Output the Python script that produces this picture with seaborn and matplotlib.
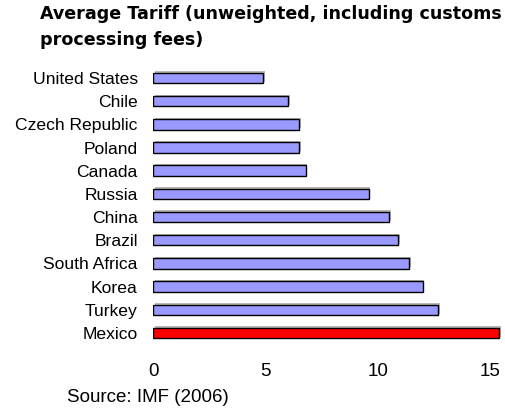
import matplotlib
matplotlib.use("Agg")
import matplotlib.pyplot as plt
import matplotlib.patheffects as pe
import seaborn as sns
import pandas as pd

countries = ["United States", "Chile", "Czech Republic", "Poland", "Canada", "Russia",
             "China", "Brazil", "South Africa", "Korea", "Turkey", "Mexico"]
tariffs = [4.9, 6.0, 6.5, 6.5, 6.8, 9.6, 10.5, 10.9, 11.4, 12.0, 12.7, 15.4]
highlight = "Mexico"
x_ticks = [0, 5, 10, 15]

sns.set_theme(style="white")
plt.rcParams["font.family"] = ["Liberation Sans", "DejaVu Sans"]

df = pd.DataFrame({"country": countries, "tariff": tariffs})
colors = {c: ("#ff0000" if c == highlight else "#9999ff") for c in countries}

fig = plt.figure(figsize=(5.05, 4.08), dpi=100)
ax = fig.add_axes([0.303, 0.1554, 0.6897, 0.6819])

sns.barplot(data=df, y="country", x="tariff", hue="country", palette=colors,
            legend=False, orient="h", width=0.45, edgecolor="black",
            linewidth=1.0, saturation=1, ax=ax)

for bar in ax.patches:
    bar.set_path_effects([
        pe.SimplePatchShadow(offset=(1.2, 1.0), shadow_rgbFace="#888888", alpha=0.6),
        pe.Normal(),
    ])

ax.set_xlim(0, 15.5)
ax.set_xticks(x_ticks)
ax.set_xticklabels([str(t) for t in x_ticks])
ax.set_xlabel("")
ax.set_ylabel("")
ax.tick_params(axis="x", length=0, pad=13, labelsize=13.5, labelcolor="black")
ax.tick_params(axis="y", length=0, pad=11, labelsize=12.6, labelcolor="black")
for s in ax.spines.values():
    s.set_visible(False)

fig.text(40 / 505, 1 - 14 / 408, "Average Tariff (unweighted, including customs",
         fontsize=12.6, fontweight="bold", family=["DejaVu Sans"], color="black",
         va="center", ha="left")
fig.text(40 / 505, 1 - 40 / 408, "processing fees)",
         fontsize=12.6, fontweight="bold", family=["DejaVu Sans"], color="black",
         va="center", ha="left")
fig.text(67 / 505, 1 - 397 / 408, "Source: IMF (2006)", fontsize=13.5,
         va="center", ha="left", color="black")

fig.savefig("out.png", dpi=100, facecolor="white")
